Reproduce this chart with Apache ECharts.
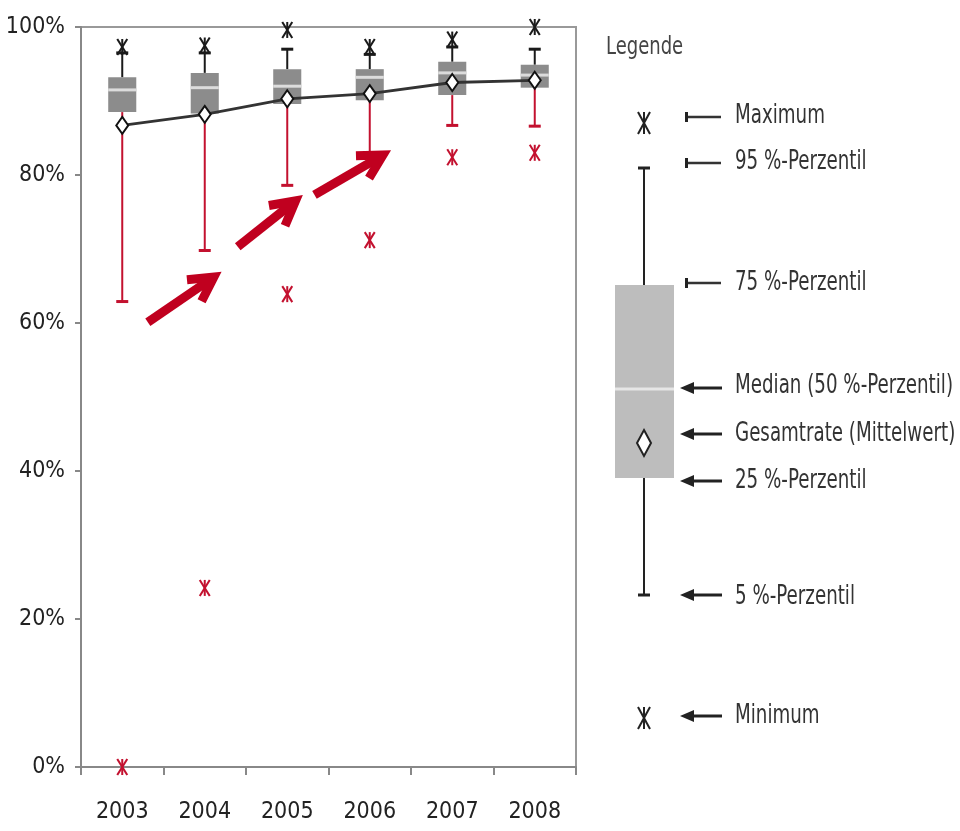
<!DOCTYPE html>
<html>
<head>
<meta charset="utf-8">
<script src="https://cdn.jsdelivr.net/npm/echarts@6/dist/echarts.min.js"></script>
<style>
html,body{margin:0;padding:0;background:#fff;}
#chart{width:960px;height:831px;}
</style>
</head>
<body>
<div id="chart"></div>
<script>
// ---- data ----
const years = ['2003', '2004', '2005', '2006', '2007', '2008'];
const p5 = [62.9, 69.8, 78.6, 83.0, 86.7, 86.6];
const q1 = [88.5, 88.3, 89.6, 90.1, 90.8, 91.8];
const median = [91.5, 91.8, 92.0, 93.2, 93.8, 93.5];
const q3 = [93.2, 93.8, 94.3, 94.3, 95.3, 94.9];
const p95 = [96.5, 96.5, 97.0, 96.3, 97.3, 97.0];
const maxVals = [97.3, 97.5, 99.6, 97.3, 98.3, 100];
const minVals = [0, 24.2, 63.9, 71.2, 82.4, 83.0];
const means = [86.7, 88.2, 90.3, 91.0, 92.5, 92.8];
const yMin = 0, yMax = 100, yStep = 20;
// annotation arrows in data coordinates: [xFrom, yFrom, xTo, yTo] (x = category index)
const arrowsData = [
  [0.31, 60.1, 1.11, 66.2],
  [1.40, 70.3, 2.10, 76.5],
  [2.33, 77.3, 3.16, 82.7]
];
const legendTitle = 'Legende';
const legendLabels = ['Maximum', '95 %-Perzentil', '75 %-Perzentil', 'Median (50 %-Perzentil)',
  'Gesamtrate (Mittelwert)', '25 %-Perzentil', '5 %-Perzentil', 'Minimum'];

// ---- styles ----
const FONT = '"Liberation Sans Narrow", "DejaVu Sans Condensed", "Liberation Sans", sans-serif';
const RED = '#c3112f';
const BLACK = '#1a1a1a';
const BOXC = '#8c8c8c';

const boxData = years.map((y, i) => [i, p5[i], q1[i], median[i], q3[i], p95[i], minVals[i], maxVals[i]]);

function star(cx, cy, color, hw, hh) {
  const st = { stroke: color, lineWidth: 2 };
  return [
    { type: 'line', shape: { x1: cx - hw, y1: cy - hh, x2: cx + hw, y2: cy + hh }, style: st },
    { type: 'line', shape: { x1: cx + hw, y1: cy - hh, x2: cx - hw, y2: cy + hh }, style: st },
    { type: 'line', shape: { x1: cx, y1: cy - hh, x2: cx, y2: cy + hh }, style: st }
  ];
}

function renderBox(params, api) {
  const idx = api.value(0);
  const px = v => api.coord([idx, v]);
  const x = px(0)[0];
  const bw = api.size([1, 0])[0] * 0.34;
  const cw = 12;
  const yp5 = px(api.value(1))[1], yq1 = px(api.value(2))[1], ymed = px(api.value(3))[1];
  const yq3 = px(api.value(4))[1], yp95 = px(api.value(5))[1];
  const ymin = px(api.value(6))[1], ymax = px(api.value(7))[1];
  const children = [
    { type: 'line', shape: { x1: x, y1: yq1, x2: x, y2: yp5 }, style: { stroke: RED, lineWidth: 2 } },
    { type: 'line', shape: { x1: x - cw / 2, y1: yp5, x2: x + cw / 2, y2: yp5 }, style: { stroke: RED, lineWidth: 3 } },
    { type: 'line', shape: { x1: x, y1: yq3, x2: x, y2: yp95 }, style: { stroke: BLACK, lineWidth: 2 } },
    { type: 'line', shape: { x1: x - cw / 2, y1: yp95, x2: x + cw / 2, y2: yp95 }, style: { stroke: BLACK, lineWidth: 3 } },
    { type: 'rect', shape: { x: x - bw / 2, y: yq3, width: bw, height: yq1 - yq3 }, style: { fill: BOXC } },
    { type: 'line', shape: { x1: x - bw / 2, y1: ymed, x2: x + bw / 2, y2: ymed }, style: { stroke: '#dcdcdc', lineWidth: 3 } }
  ].concat(star(x, ymax, BLACK, 5, 8), star(x, ymin, RED, 5, 8));
  return { type: 'group', children };
}

function renderArrow(params, api) {
  const a = api.coord([api.value(0), api.value(1)]);
  const b = api.coord([api.value(2), api.value(3)]);
  const ang = Math.atan2(a[1] - b[1], a[0] - b[0]);
  const L = 27, spread = 0.5;
  const h1 = [b[0] + L * Math.cos(ang + spread), b[1] + L * Math.sin(ang + spread)];
  const h2 = [b[0] + L * Math.cos(ang - spread), b[1] + L * Math.sin(ang - spread)];
  const s = { stroke: '#c0001f', lineWidth: 9, lineJoin: 'miter', lineCap: 'butt', fill: null };
  const end = [b[0] + 4 * Math.cos(ang), b[1] + 4 * Math.sin(ang)];
  return {
    type: 'group', children: [
      { type: 'line', shape: { x1: a[0], y1: a[1], x2: end[0], y2: end[1] }, style: s },
      { type: 'polyline', shape: { points: [h1, b, h2] }, style: s }
    ]
  };
}

// ---- legend graphic ----
const LX = 644;               // legend whisker centre
const lg = [];
const teeYs = [117, 163, 283];
const arrYs = [388, 434, 481, 595, 716];
const labelYs = [116, 162, 283, 386, 434, 481, 597, 716];
lg.push({ type: 'text', x: 606, y: 47, scaleX: 0.8, style: { text: legendTitle, font: '25px ' + FONT, fill: '#444', verticalAlign: 'middle' } });
// box
lg.push({ type: 'line', shape: { x1: LX, y1: 168, x2: LX, y2: 285 }, style: { stroke: '#222', lineWidth: 2 } });
lg.push({ type: 'line', shape: { x1: LX - 6, y1: 168, x2: LX + 6, y2: 168 }, style: { stroke: '#222', lineWidth: 3 } });
lg.push({ type: 'line', shape: { x1: LX, y1: 478, x2: LX, y2: 595 }, style: { stroke: '#222', lineWidth: 2 } });
lg.push({ type: 'line', shape: { x1: LX - 6, y1: 595, x2: LX + 6, y2: 595 }, style: { stroke: '#222', lineWidth: 3 } });
lg.push({ type: 'rect', shape: { x: 615, y: 285, width: 59, height: 193 }, style: { fill: '#bdbdbd' } });
lg.push({ type: 'line', shape: { x1: 615, y1: 389, x2: 674, y2: 389 }, style: { stroke: '#e6e6e6', lineWidth: 3 } });
lg.push({ type: 'polygon', shape: { points: [[LX, 430], [LX + 7, 443], [LX, 456], [LX - 7, 443]] }, style: { fill: '#fff', stroke: '#222', lineWidth: 2 } });
star(LX, 123, '#222', 6, 11).forEach(e => lg.push(e));
star(LX, 718, '#222', 6, 11).forEach(e => lg.push(e));
teeYs.forEach(y => {
  lg.push({ type: 'line', shape: { x1: 687, y1: y, x2: 721, y2: y }, style: { stroke: '#333', lineWidth: 2.5 } });
  lg.push({ type: 'rect', shape: { x: 685, y: y - 5, width: 3, height: 10 }, style: { fill: '#222' } });
});
arrYs.forEach(y => {
  lg.push({ type: 'line', shape: { x1: 692, y1: y, x2: 722, y2: y }, style: { stroke: '#222', lineWidth: 3 } });
  lg.push({ type: 'polygon', shape: { points: [[680, y], [694, y - 6], [694, y + 6]] }, style: { fill: '#222' } });
});
legendLabels.forEach((t, i) => {
  lg.push({ type: 'text', x: 735, y: labelYs[i], scaleX: 0.78, style: { text: t, font: '26px ' + FONT, fill: '#333', verticalAlign: 'middle', align: 'left' } });
});

const chart = echarts.init(document.getElementById('chart'));
chart.setOption({
  animation: false,
  backgroundColor: '#fff',
  grid: { left: 81, right: 384, top: 27, bottom: 64, show: true, borderColor: '#999', borderWidth: 2, backgroundColor: 'transparent' },
  xAxis: [{
    type: 'category', data: years, boundaryGap: true,
    axisLine: { lineStyle: { color: '#888', width: 2 } },
    axisTick: { show: true, length: 8, lineStyle: { color: '#888', width: 2 } },
    axisLabel: { color: '#222', fontSize: 23, fontFamily: FONT, margin: 34 },
    splitLine: { show: false }
  }, {
    type: 'value', min: -0.5, max: 5.5, show: false
  }],
  yAxis: {
    type: 'value', min: yMin, max: yMax, interval: yStep,
    axisLine: { show: true, onZero: false, lineStyle: { color: '#888', width: 2 } },
    axisTick: { show: true, length: 6, lineStyle: { color: '#888', width: 2 } },
    axisLabel: { color: '#222', fontSize: 23, fontFamily: FONT, margin: 16, formatter: '{value}%' },
    splitLine: { show: false }
  },
  series: [{
    type: 'custom', xAxisIndex: 0, renderItem: renderBox, data: boxData, z: 2,
    encode: { x: 0, y: [1, 2, 3, 4, 5, 6, 7] }
  }, {
    type: 'line', xAxisIndex: 0, data: means, z: 3,
    lineStyle: { color: '#333', width: 2.8 },
    symbol: 'diamond', symbolSize: [12, 17], showAllSymbol: true,
    itemStyle: { color: '#fff', borderColor: '#111', borderWidth: 2 }
  }, {
    type: 'custom', xAxisIndex: 1, renderItem: renderArrow, data: arrowsData, z: 4,
    encode: { x: [0, 2], y: [1, 3] }
  }],
  graphic: lg
});
</script>
</body>
</html>
